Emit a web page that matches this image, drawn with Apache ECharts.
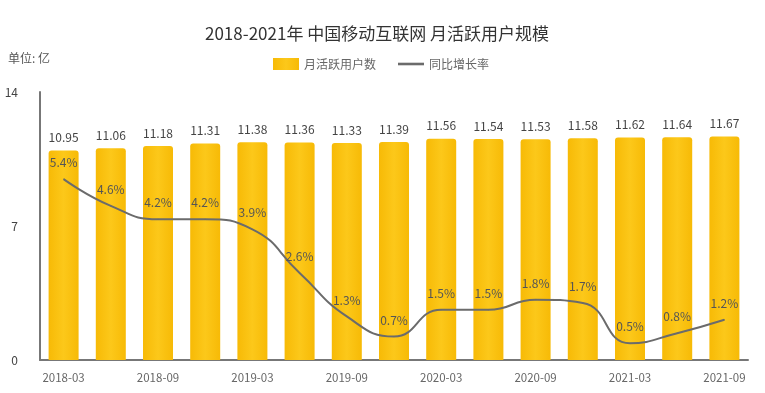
<!DOCTYPE html>
<html><head><meta charset="utf-8">
<script src="https://cdn.jsdelivr.net/npm/echarts@6/dist/echarts.min.js"></script>
<style>html,body{margin:0;padding:0;background:#fff}#c{width:765px;height:393px}</style>
</head><body><div id="c"></div>
<script>
const categories = ['2018-03','2018-06','2018-09','2018-12','2019-03','2019-06','2019-09','2019-12','2020-03','2020-06','2020-09','2020-12','2021-03','2021-06','2021-09'];
const mauValues = [10.95,11.06,11.18,11.31,11.38,11.36,11.33,11.39,11.56,11.54,11.53,11.58,11.62,11.64,11.67];
const growthValues = [5.4,4.6,4.2,4.2,3.9,2.6,1.3,0.7,1.5,1.5,1.8,1.7,0.5,0.8,1.2];
const yTicks = [0,7,14];

const chart = echarts.init(document.getElementById('c'));
const font = '"Noto Sans CJK SC", "Noto Sans", sans-serif';
chart.setOption({
  animation: false,
  textStyle: {fontFamily: font},
  title: {
    text: '2018-2021年 中国移动互联网 月活跃用户规模',
    left: 372, top: 20, textAlign: 'center',
    textStyle: {fontSize: 17, fontWeight: 'normal', color: '#333', fontFamily: font}
  },
  legend: {
    left: 268, top: 53, itemGap: 22, itemWidth: 26, itemHeight: 12,
    textStyle: {fontSize: 12, color: '#666', fontFamily: font},
    data: [
      {name: '月活跃用户数', icon: 'rect'},
      {name: '同比增长率', icon: 'path://M0,0 L20,0 L20,2 L0,2 Z', itemStyle: {color: '#6b6b6b', opacity: 1}}
    ]
  },
  graphic: [{
    type: 'text', left: 8, top: 52,
    style: {text: '单位: 亿', fontSize: 12, fill: '#555', fontFamily: font}
  }],
  grid: {left: 40, right: 17, top: 92, bottom: 33},
  xAxis: {
    type: 'category', data: categories,
    axisLine: {lineStyle: {color: '#777', width: 2}},
    axisTick: {show: false},
    axisLabel: {interval: 1, color: '#666', fontSize: 11.5, margin: 12}
  },
  yAxis: [{
    type: 'value', min: 0, max: 14, interval: 7,
    axisLine: {show: true, lineStyle: {color: '#777', width: 2}},
    axisTick: {show: false},
    splitLine: {show: false},
    axisLabel: {color: '#444', fontSize: 12, margin: 22, formatter: v => yTicks.includes(v) ? String(v) : ''}
  }, {
    type: 'value', min: 0, max: 8, show: false, splitLine: {show: false}
  }],
  series: [{
    name: '月活跃用户数', type: 'bar', data: mauValues, barWidth: 30,
    itemStyle: {
      borderRadius: [3,3,0,0],
      color: new echarts.graphic.LinearGradient(0,0,1,0,[
        {offset: 0, color: '#F7BA06'},
        {offset: 0.5, color: '#FCC81A'},
        {offset: 1, color: '#F7BA06'}
      ])
    },
    label: {show: true, position: 'top', distance: 7, color: '#444', fontSize: 12,
      formatter: p => p.value.toFixed(2)}
  }, {
    name: '同比增长率', type: 'line', yAxisIndex: 1, data: growthValues, smooth: true,
    symbol: 'circle', symbolSize: 1, showSymbol: true,
    lineStyle: {color: '#6b6b6b', width: 2}, itemStyle: {color: '#6b6b6b'},
    label: {show: true, position: 'top', distance: 10, color: '#555', fontSize: 12,
      formatter: p => p.value.toFixed(1) + '%'}
  }]
});
</script></body></html>
